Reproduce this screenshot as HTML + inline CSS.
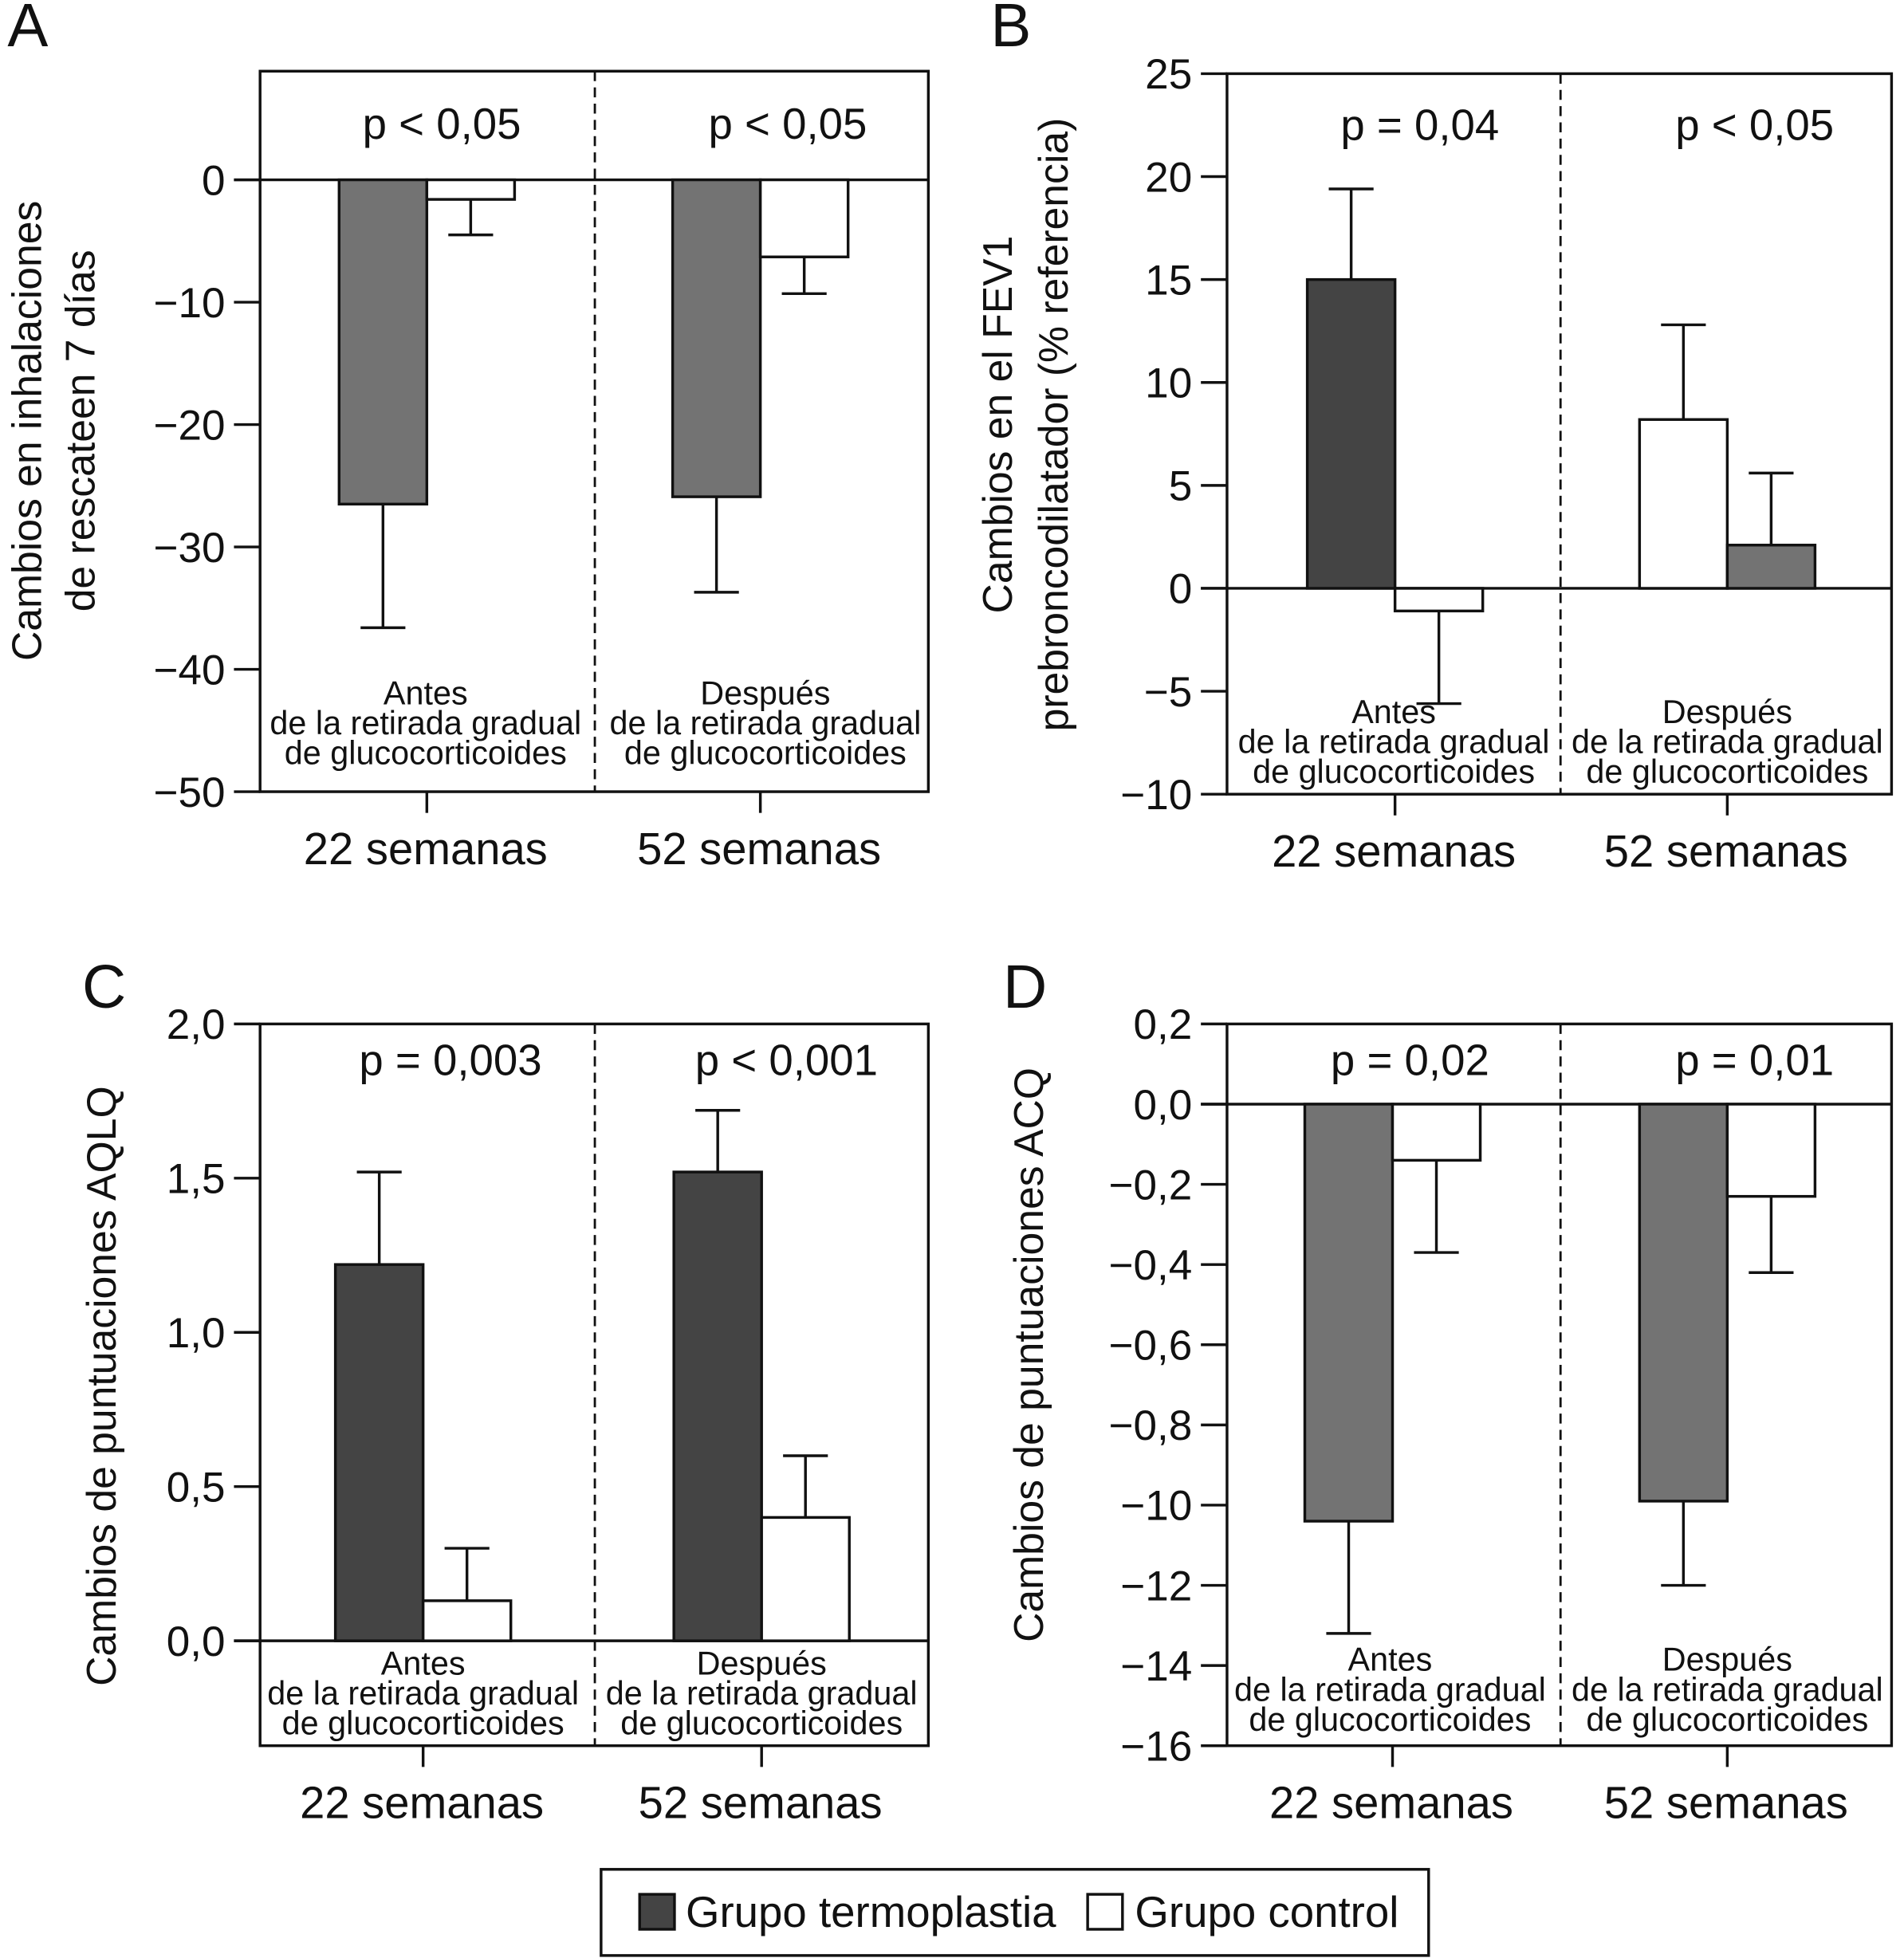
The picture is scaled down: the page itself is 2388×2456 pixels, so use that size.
<!DOCTYPE html>
<html><head><meta charset="utf-8"><style>
html,body{margin:0;padding:0;background:#fff;}
svg{display:block;font-family:"Liberation Sans",Arial,sans-serif;}
</style></head><body>
<svg id="chart" width="2388" height="2456" viewBox="0 0 1530 1568" preserveAspectRatio="none" xmlns="http://www.w3.org/2000/svg">
<rect x="0" y="0" width="1530" height="1568" fill="#fff"/>
<g id="root"></g>
</svg>
<script>
// Panel A data
const catsA = ["22 semanas", "52 semanas"];
const pA = ["p < 0,05", "p < 0,05"];
const barsA = [-26.5, -1.6, -25.9, -6.3];
const errA = [-36.6, -4.5, -33.7, -9.3];
const fillA = ["#737373", "#fff", "#737373", "#fff"];
const ticksA = [0, -10, -20, -30, -40, -50];
const tickLabA = ["0", "\u221210", "\u221220", "\u221230", "\u221240", "\u221250"];
// Panel B data
const catsB = ["22 semanas", "52 semanas"];
const pB = ["p = 0,04", "p < 0,05"];
const barsB = [15.0, -1.1, 8.2, 2.1];
const errB = [19.4, -5.6, 12.8, 5.6];
const fillB = ["#444", "#fff", "#fff", "#737373"];
const ticksB = [25, 20, 15, 10, 5, 0, -5, -10];
const tickLabB = ["25", "20", "15", "10", "5", "0", "\u22125", "\u221210"];
// Panel C data
const catsC = ["22 semanas", "52 semanas"];
const pC = ["p = 0,003", "p < 0,001"];
const barsC = [1.22, 0.13, 1.52, 0.40];
const errC = [1.52, 0.30, 1.72, 0.60];
const fillC = ["#444", "#fff", "#444", "#fff"];
const ticksC = [2.0, 1.5, 1.0, 0.5, 0.0];
const tickLabC = ["2,0", "1,5", "1,0", "0,5", "0,0"];
// Panel D data
const catsD = ["22 semanas", "52 semanas"];
const pD = ["p = 0,02", "p = 0,01"];
const barsD = [-1.04, -0.14, -0.99, -0.23];
const errD = [-1.32, -0.37, -1.20, -0.42];
const fillD = ["#737373", "#fff", "#737373", "#fff"];
const ticksD = [0.2, 0.0, -0.2, -0.4, -0.6, -0.8, -1.0, -1.2, -1.4, -1.6];
const tickLabD = ["0,2", "0,0", "\u22120,2", "\u22120,4", "\u22120,6", "\u22120,8", "\u221210", "\u221212", "\u221214", "\u221216"];

const NS = "http://www.w3.org/2000/svg";
const root = document.getElementById('root');
function mk(tag, attrs, parent, text) {
  const e = document.createElementNS(NS, tag);
  for (const k in attrs) e.setAttribute(k, attrs[k]);
  if (text !== undefined) e.textContent = text;
  (parent || root).appendChild(e);
  return e;
}
const sub1 = ["Antes", "de la retirada gradual", "de glucocorticoides"];
const sub2 = ["Despu\u00e9s", "de la retirada gradual", "de glucocorticoides"];

function panel(o) {
  const g = mk('g', {});
  
  
  const y = v => o.y0 + (v - o.v0) / (o.v1 - o.v0) * (o.y1 - o.y0);
  const box = mk('rect', {x: o.L, y: o.T, width: o.R - o.L, height: o.B - o.T, fill: 'none', stroke: '#111', 'stroke-width': 2.2}, g);
  
  
  const mid = o.mid;
  const dv = mk('line', {x1: mid, y1: o.T, x2: mid, y2: o.B, stroke: '#111', 'stroke-width': 1.8, 'stroke-dasharray': '8,5'}, g);
  
  
  o.ticks.forEach((t, i) => {
    const ty = y(t);
    const tl = mk('line', {x1: o.L - 21, y1: ty, x2: o.L, y2: ty, stroke: '#111', 'stroke-width': 2.2}, g);
    
    
    const tx = mk('text', {x: o.L - 28, y: ty + 12, 'font-size': 34, 'text-anchor': 'end', fill: '#111'}, g, o.tickLab[i]);
    
    
  });
  const zl = mk('line', {x1: o.L - 21, y1: y(0), x2: o.R, y2: y(0), stroke: '#111', 'stroke-width': 2.2}, g);
  
  
  const bw = 70.5;
  const centers = o.centers;
  o.bars.forEach((v, i) => {
    const c = centers[Math.floor(i / 2)];
    const x = i % 2 === 0 ? c - bw : c;
    const yv = y(v), yz = y(0);
    const r = mk('rect', {x: x, y: Math.min(yv, yz), width: bw, height: Math.abs(yv - yz), fill: o.fills[i], stroke: '#111', 'stroke-width': 2.2}, g);
    
    
    const ex = x + bw / 2, ye = y(o.err[i]);
    const el = mk('line', {x1: ex, y1: yv, x2: ex, y2: ye, stroke: '#111', 'stroke-width': 2.2}, g);
    
    
    const ec = mk('line', {x1: ex - 18, y1: ye, x2: ex + 18, y2: ye, stroke: '#111', 'stroke-width': 2.2}, g);
    
    
  });
  [0, 1].forEach(k => {
    const c = centers[k];
    const pt = mk('text', {x: c + o.pdx[k], y: o.pY, 'font-size': 35, 'text-anchor': 'middle', fill: '#111'}, g, o.p[k]);
    
    
    const tk = mk('line', {x1: c, y1: o.B, x2: c, y2: o.B + 17, stroke: '#111', 'stroke-width': 2.2}, g);
    
    
    const ct = mk('text', {x: c - 1, y: o.B + 58, 'font-size': 36, 'text-anchor': 'middle', fill: '#111'}, g, o.cats[k]);
    
    
    const lines = k === 0 ? sub1 : sub2;
    lines.forEach((s, j) => {
      const st = mk('text', {x: o.subX[k], y: o.subY + j * 24, 'font-size': 26.5, 'text-anchor': 'middle', fill: '#111'}, g, s);
      
      
    });
  });
  const pl = mk('text', {x: o.letterX, y: o.letterY, 'font-size': 49, fill: '#111'}, g, o.letter);
  
  
  o.ytitle.forEach((s, j) => {
    const yt = mk('text', {x: 0, y: 0, 'font-size': 33, 'text-anchor': 'middle', fill: '#111', transform: 'translate(' + o.ytX[j] + ',' + o.ytY + ') rotate(-90)'}, g, s);
    
    
  });
}

panel({name: 'panel-a', letter: 'A', letterX: 6, letterY: 37, L: 209, R: 746, T: 57, B: 634, mid: 478,
  centers: [343, 611], subX: [342, 615],
  v0: 0, y0: 144, v1: -50, y1: 634, ticks: ticksA, tickLab: tickLabA,
  bars: barsA, err: errA, fills: fillA, p: pA, pdx: [12, 22], pY: 111, cats: catsA, subY: 564,
  ytitle: ['Cambios en inhalaciones', 'de rescateen 7 d\u00edas'], ytX: [33, 76], ytY: 345});
panel({name: 'panel-b', letter: 'B', letterX: 796, letterY: 37, L: 986, R: 1520, T: 59, B: 636, mid: 1254,
  centers: [1121, 1388], subX: [1120, 1388],
  v0: 25, y0: 59, v1: -10, y1: 636, ticks: ticksB, tickLab: tickLabB,
  bars: barsB, err: errB, fills: fillB, p: pB, pdx: [20, 22], pY: 112, cats: catsB, subY: 579,
  ytitle: ['Cambios en el FEV1', 'prebroncodilatador (% referencia)'], ytX: [813, 858], ytY: 340});
panel({name: 'panel-c', letter: 'C', letterX: 66, letterY: 807, L: 209, R: 746, T: 820, B: 1398, mid: 478,
  centers: [340, 612], subX: [340, 612],
  v0: 2.0, y0: 820, v1: 0.0, y1: 1314, ticks: ticksC, tickLab: tickLabC,
  bars: barsC, err: errC, fills: fillC, p: pC, pdx: [22, 20], pY: 861, cats: catsC, subY: 1341,
  ytitle: ['Cambios de puntuaciones AQLQ'], ytX: [93], ytY: 1110});
panel({name: 'panel-d', letter: 'D', letterX: 806, letterY: 807, L: 986, R: 1520, T: 820, B: 1398, mid: 1254,
  centers: [1119, 1388], subX: [1117, 1388],
  v0: 0.2, y0: 820, v1: -1.6, y1: 1398, ticks: ticksD, tickLab: tickLabD,
  bars: barsD, err: errD, fills: fillD, p: pD, pdx: [14, 22], pY: 861, cats: catsD, subY: 1338,
  ytitle: ['Cambios de puntuaciones ACQ'], ytX: [838], ytY: 1085});

const lg = mk('g', {});


const lb = mk('rect', {x: 483, y: 1497, width: 665, height: 69, fill: '#fff', stroke: '#111', 'stroke-width': 2.2}, lg);


const s1 = mk('rect', {x: 514, y: 1517, width: 28, height: 28, fill: '#444', stroke: '#111', 'stroke-width': 2.2}, lg);


const t1 = mk('text', {x: 551, y: 1543, 'font-size': 35, fill: '#111'}, lg, 'Grupo termoplastia');


const s2 = mk('rect', {x: 874, y: 1517, width: 28, height: 28, fill: '#fff', stroke: '#111', 'stroke-width': 2.2}, lg);


const t2 = mk('text', {x: 912, y: 1543, 'font-size': 35, fill: '#111'}, lg, 'Grupo control');


</script>
</body></html>
